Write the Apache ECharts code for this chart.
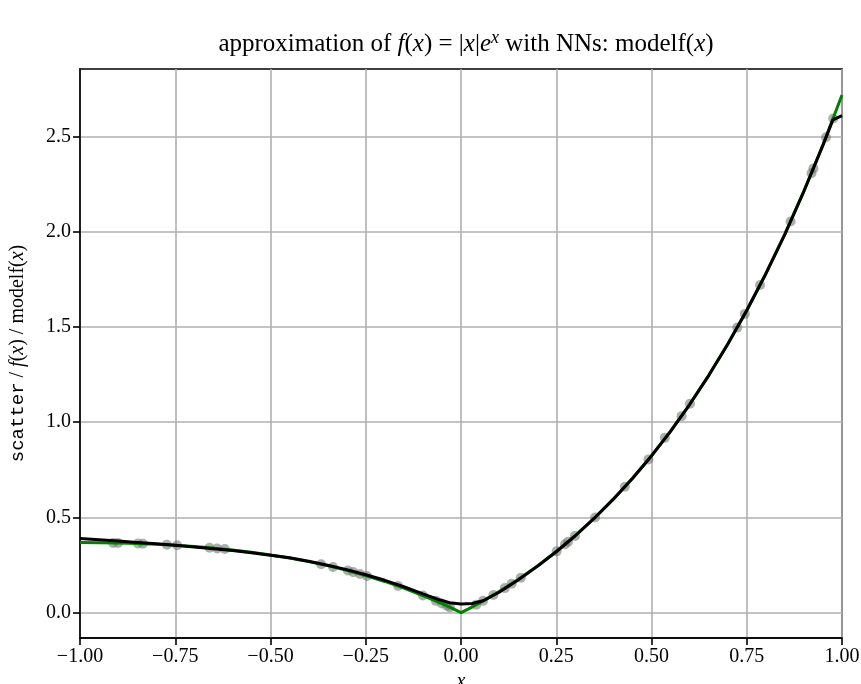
<!DOCTYPE html>
<html>
<head>
<meta charset="utf-8">
<script src="https://cdn.jsdelivr.net/npm/echarts@6/dist/echarts.min.js"></script>
<style>
html,body{margin:0;padding:0;background:#fff;}
#chart{width:861px;height:684px;}
</style>
</head>
<body>
<div id="chart"></div>
<script>
// true function f(x) = |x| e^x (green line)
const fX = [-1.00,-0.95,-0.90,-0.85,-0.80,-0.75,-0.70,-0.65,-0.60,-0.55,-0.50,-0.45,-0.40,-0.35,-0.30,-0.25,-0.20,-0.15,-0.10,-0.05,-0.02,0.00,0.02,0.05,0.10,0.15,0.20,0.25,0.30,0.35,0.40,0.45,0.50,0.55,0.60,0.65,0.70,0.75,0.80,0.85,0.90,0.95,1.00];
const fY = [0.368,0.367,0.366,0.363,0.359,0.354,0.348,0.339,0.329,0.317,0.303,0.287,0.268,0.247,0.222,0.195,0.164,0.129,0.090,0.048,0.020,0.000,0.020,0.053,0.111,0.174,0.244,0.321,0.405,0.497,0.597,0.706,0.824,0.953,1.093,1.245,1.410,1.588,1.780,1.988,2.214,2.456,2.718];

// model output (black line)
const mX = [-1.00,-0.95,-0.90,-0.85,-0.80,-0.75,-0.70,-0.65,-0.60,-0.55,-0.50,-0.45,-0.40,-0.35,-0.30,-0.25,-0.20,-0.15,-0.10,-0.06,-0.03,0.00,0.03,0.06,0.10,0.15,0.20,0.25,0.30,0.35,0.40,0.45,0.50,0.55,0.60,0.65,0.70,0.75,0.80,0.85,0.90,0.95,0.976,1.00];
const mY = [0.390,0.383,0.376,0.369,0.362,0.354,0.345,0.336,0.326,0.315,0.302,0.288,0.270,0.249,0.226,0.199,0.170,0.136,0.099,0.070,0.052,0.045,0.048,0.064,0.107,0.172,0.243,0.320,0.404,0.496,0.596,0.705,0.823,0.952,1.093,1.245,1.410,1.587,1.779,1.987,2.213,2.455,2.588,2.610];

// training samples (scatter)
const sX = [-0.913,-0.900,-0.848,-0.835,-0.772,-0.745,-0.660,-0.640,-0.620,-0.367,-0.336,-0.297,-0.283,-0.265,-0.247,-0.165,-0.100,-0.066,-0.050,-0.037,-0.029,0.040,0.058,0.085,0.115,0.133,0.157,0.251,0.273,0.281,0.299,0.352,0.430,0.492,0.535,0.579,0.601,0.725,0.745,0.785,0.865,0.920,0.925,0.958,0.977];
const sY = [0.366,0.366,0.363,0.362,0.357,0.354,0.341,0.337,0.334,0.254,0.240,0.221,0.213,0.203,0.193,0.140,0.090,0.062,0.048,0.036,0.028,0.042,0.062,0.093,0.129,0.152,0.184,0.322,0.359,0.372,0.403,0.500,0.661,0.805,0.918,1.032,1.097,1.497,1.569,1.721,2.054,2.308,2.333,2.497,2.595];

const xTicks = [-1.00,-0.75,-0.50,-0.25,0.00,0.25,0.50,0.75,1.00];
const yTicks = [0.0,0.5,1.0,1.5,2.0,2.5];

const zip = (a,b)=>a.map((v,i)=>[v,b[i]]);
const SERIF = '"Liberation Serif", "DejaVu Serif", serif';
const fmt = (v,d)=> v.toFixed(d).replace('-', '\u2212');

const chart = echarts.init(document.getElementById('chart'));
chart.setOption({
  animation:false,
  backgroundColor:'#fff',
  title:{
    text:'approximation of {i|f}({i|x}) = |{i|x}|{i|e}{sup|x} with NNs: modelf({i|x})',
    left:461, textAlign:'center', top:24,
    textStyle:{
      fontFamily:SERIF, fontSize:25, fontWeight:'normal', color:'#000',
      rich:{
        i:{fontFamily:SERIF,fontSize:25,fontStyle:'italic',color:'#000'},
        sup:{fontFamily:SERIF,fontSize:18,fontStyle:'italic',color:'#000',padding:[0,0,12,0]}
      }
    }
  },
  grid:{left:80,right:19,top:69,bottom:46,show:true,borderColor:'#000',borderWidth:1.6,backgroundColor:'transparent',outerBoundsMode:'none',containLabel:false},
  xAxis:{
    type:'value', min:-1, max:1, interval:0.25,
    name:'{i|x}', nameLocation:'middle', nameGap:23,
    nameTextStyle:{rich:{i:{fontFamily:SERIF,fontSize:20,fontStyle:'italic',color:'#000'}}},
    axisLine:{show:true,onZero:false,lineStyle:{color:'#000',width:1.6}},
    axisTick:{show:true,inside:false,length:7,lineStyle:{color:'#000',width:1.6}},
    axisLabel:{margin:9,fontFamily:SERIF,fontSize:20,color:'#000',formatter:v=>fmt(v,2),showMinLabel:true,showMaxLabel:true},
    splitLine:{show:true,lineStyle:{color:'#b0b0b0',width:1.6}}
  },
  yAxis:{
    type:'value', min:-0.133, max:2.855,
    name:'{tt|scatter} / {i|f}({i|x}) / modelf({i|x})', nameLocation:'middle', nameGap:52, nameRotate:90,
    nameTextStyle:{fontFamily:SERIF,fontSize:20,color:'#000',rich:{
      tt:{fontFamily:'"Liberation Mono","DejaVu Sans Mono",monospace',fontSize:19,color:'#000'},
      i:{fontFamily:SERIF,fontSize:20,fontStyle:'italic',color:'#000'}
    }},
    axisLine:{show:true,onZero:false,lineStyle:{color:'#000',width:1.6}},
    axisTick:{show:true,inside:false,length:7,lineStyle:{color:'#000',width:1.6},customValues:yTicks},
    axisLabel:{margin:9,fontFamily:SERIF,fontSize:20,color:'#000',formatter:v=>fmt(v,1),customValues:yTicks},
    splitLine:{show:true,lineStyle:{color:'#b0b0b0',width:1.6}}
  },
  series:[
    {type:'scatter',data:zip(sX,sY),symbolSize:10,itemStyle:{color:'rgba(110,110,110,0.7)'},z:1},
    {type:'line',data:zip(fX,fY),showSymbol:false,symbol:'none',lineStyle:{color:'#008000',width:3},z:2},
    {type:'line',data:zip(mX,mY),showSymbol:false,symbol:'none',lineStyle:{color:'#000',width:3},z:3}
  ]
});
</script>
</body>
</html>
